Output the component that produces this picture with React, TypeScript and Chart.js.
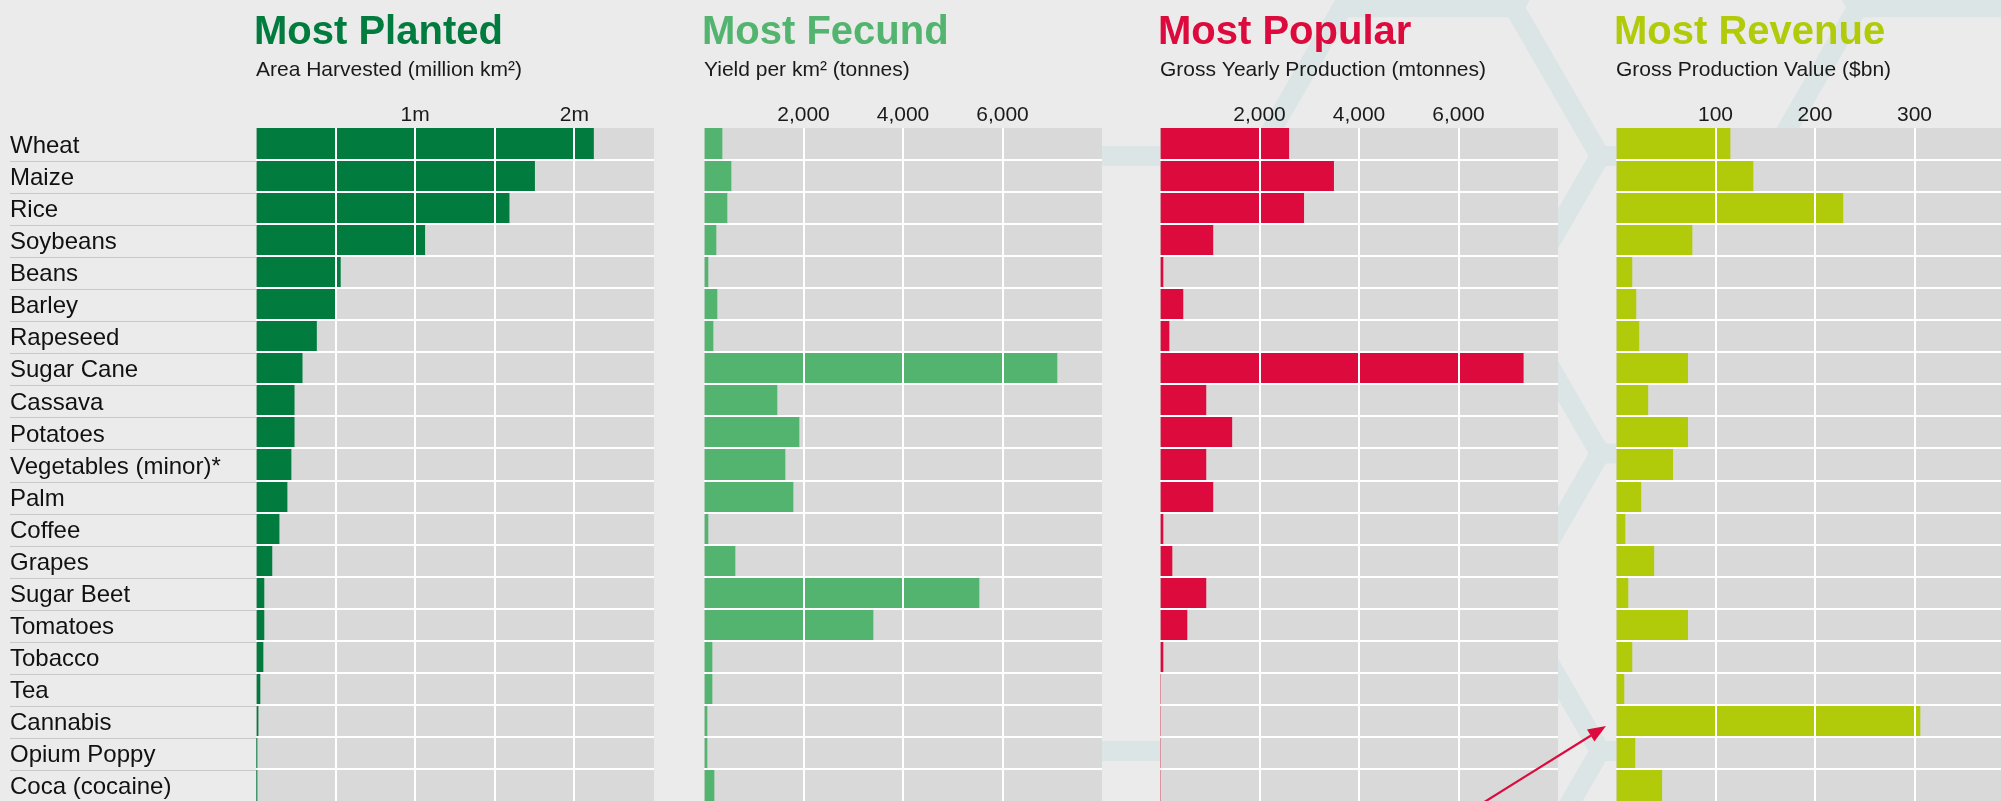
import React, { useEffect, useRef } from 'react';
import { Chart, registerables } from 'chart.js';

Chart.register(...registerables);

const FONT = '"Liberation Sans", Arial, Helvetica, sans-serif';

const categories = [
  'Wheat', 'Maize', 'Rice', 'Soybeans', 'Beans', 'Barley', 'Rapeseed', 'Sugar Cane',
  'Cassava', 'Potatoes', 'Vegetables (minor)*', 'Palm', 'Coffee', 'Grapes', 'Sugar Beet',
  'Tomatoes', 'Tobacco', 'Tea', 'Cannabis', 'Opium Poppy', 'Coca (cocaine)',
];

// Area Harvested (million km²)
const areaHarvested = [2.12, 1.75, 1.59, 1.06, 0.53, 0.5, 0.38, 0.29, 0.24, 0.24, 0.22, 0.195, 0.145, 0.1, 0.05, 0.05, 0.044, 0.025, 0.013, 0.004, 0.004];
// Yield per km² (tonnes)
const yieldPerKm2 = [362, 543, 462, 241, 80, 261, 181, 7095, 1467, 1910, 1628, 1789, 80, 623, 5528, 3397, 161, 161, 60, 60, 201];
// Gross Yearly Production (mtonnes)
const grossProduction = [2588, 3490, 2889, 1063, 60, 461, 181, 7302, 923, 1444, 923, 1063, 60, 241, 923, 542, 60, 0, 0, 0, 0];
// Gross Production Value ($bn)
const productionValue = [114.6, 137.7, 228, 76.4, 16, 20, 23, 72, 32, 72, 57, 25, 9, 38, 12, 72, 16, 8, 305.5, 19, 46];

const plantedTicks = ['', '', '1m', '', '2m', ''];
const fecundTicks = ['', '2,000', '4,000', '6,000', ''];
const popularTicks = ['', '2,000', '4,000', '6,000', ''];
const revenueTicks = ['', '100', '200', '300', ''];

const panels = [
  { title: 'Most Planted', subtitle: 'Area Harvested (million km²)', color: '#027b3e', values: areaHarvested, max: 2.5, step: 0.5, tickLabels: plantedTicks, left: 0, width: 654, labels: true },
  { title: 'Most Fecund', subtitle: 'Yield per km² (tonnes)', color: '#53b46f', values: yieldPerKm2, max: 8000, step: 2000, tickLabels: fecundTicks, left: 704, width: 398, labels: false },
  { title: 'Most Popular', subtitle: 'Gross Yearly Production (mtonnes)', color: '#dc0a3d', values: grossProduction, max: 8000, step: 2000, tickLabels: popularTicks, left: 1160, width: 398, labels: false },
  { title: 'Most Revenue', subtitle: 'Gross Production Value ($bn)', color: '#b1cb0b', values: productionValue, max: 400, step: 100, tickLabels: revenueTicks, left: 1616, width: 398, labels: false },
];

const panelDecor = {
  id: 'panelDecor',
  beforeDraw(chart: any) {
    const { ctx, chartArea: a } = chart;
    ctx.save();
    ctx.fillStyle = '#d9d9d9';
    ctx.fillRect(a.left, a.top, a.right - a.left, a.bottom - a.top);
    ctx.restore();
  },
  afterDraw(chart: any, _args: any, opts: any) {
    const { ctx, chartArea: a } = chart;
    ctx.save();
    ctx.textAlign = 'left';
    ctx.textBaseline = 'alphabetic';
    ctx.fillStyle = opts.color;
    ctx.font = `bold 40px ${FONT}`;
    ctx.fillText(opts.title, a.left - 2, 43.5);
    ctx.fillStyle = '#1a1a1a';
    ctx.font = `21px ${FONT}`;
    ctx.fillText(opts.subtitle, a.left, 76);
    if (opts.rules) {
      const n = chart.data.labels.length;
      const step = (a.bottom - a.top) / n;
      ctx.strokeStyle = '#c9c9c9';
      ctx.lineWidth = 1;
      for (let i = 1; i <= n; i++) {
        const yy = Math.round(a.top + step * i) + 1.5;
        ctx.beginPath();
        ctx.moveTo(10, yy);
        ctx.lineTo(a.left, yy);
        ctx.stroke();
      }
    }
    ctx.restore();
  },
};

function Panel({ cfg }: { cfg: any }) {
  const ref = useRef<HTMLCanvasElement>(null);
  useEffect(() => {
    const canvas = ref.current;
    if (!canvas) return;
    const nTicks = cfg.tickLabels.length;
    const chart = new Chart(canvas, {
      type: 'bar',
      data: {
        labels: categories,
        datasets: [{
          data: cfg.values,
          backgroundColor: cfg.color,
          borderWidth: 0,
          barPercentage: 1,
          categoryPercentage: 1,
        }],
      },
      options: {
        indexAxis: 'y',
        responsive: false,
        maintainAspectRatio: false,
        animation: false,
        events: [],
        devicePixelRatio: 1,
        layout: { autoPadding: false, padding: { left: cfg.labels ? 10 : 0, right: 0, top: 0, bottom: 0 } },
        plugins: {
          legend: { display: false },
          tooltip: { enabled: false },
          title: { display: false },
          panelDecor: { title: cfg.title, subtitle: cfg.subtitle, color: cfg.color, rules: cfg.labels },
        } as any,
        scales: {
          x: {
            type: 'linear',
            position: 'top',
            min: 0,
            max: cfg.max,
            ticks: {
              stepSize: cfg.step,
              autoSkip: false,
              maxRotation: 0,
              padding: 0,
              color: '#1a1a1a',
              font: { family: FONT, size: 21 },
              callback: (_v: any, i: number) => cfg.tickLabels[i] ?? '',
            },
            grid: {
              color: (c: any) => (c.type === 'tick' && c.index > 0 && c.index < nTicks - 1 ? '#ffffff' : 'rgba(0,0,0,0)'),
              lineWidth: 2,
              drawTicks: false,
              z: 1,
            },
            border: { display: false },
            afterFit: (s: any) => { s.height = 128; s.paddingLeft = 0; s.paddingRight = 0; },
          },
          y: {
            type: 'category',
            ticks: {
              display: cfg.labels,
              crossAlign: 'far',
              padding: 0,
              autoSkip: false,
              labelOffset: 2.5,
              color: '#111111',
              font: { family: FONT, size: 24 },
            },
            grid: {
              offset: true,
              color: (c: any) => (c.type === 'tick' && c.index > 0 ? '#ffffff' : 'rgba(0,0,0,0)'),
              lineWidth: 2,
              drawTicks: false,
              z: 1,
            },
            border: { display: false },
            afterFit: (s: any) => { s.width = cfg.labels ? 246 : 0; s.paddingTop = 0; s.paddingBottom = 0; },
          },
        } as any,
      } as any,
      plugins: [panelDecor as any],
    });
    return () => chart.destroy();
  }, [cfg]);
  return (
    <canvas
      ref={ref}
      width={cfg.width}
      height={801}
      style={{ position: 'absolute', left: cfg.left, top: 0, width: cfg.width, height: 801 }}
    />
  );
}

function Honeycomb() {
  const band = { stroke: '#dce5e5', strokeWidth: 20, fill: 'none', strokeLinejoin: 'miter' as const };
  return (
    <svg width={2001} height={801} style={{ position: 'absolute', left: 0, top: 0 }}>
      <polyline {...band} points="1600,-141.5 1514.1,7.25 1600,156 1514.1,304.75 1600,453.5 1514.1,602.25 1600,751 1514.1,899.75" />
      <polyline {...band} points="1771.8,-141.5 1857.6,7.25 1771.8,156 1857.6,304.75 1771.8,453.5 1857.6,602.25 1771.8,751 1857.6,899.75" />
      <line {...band} x1={1600} y1={156} x2={1771.8} y2={156} />
      <line {...band} x1={1600} y1={453.5} x2={1771.8} y2={453.5} />
      <line {...band} x1={1600} y1={751} x2={1771.8} y2={751} />
      <line {...band} x1={1857.6} y1={7.25} x2={2030} y2={7.25} />
      <polyline {...band} points="1084.7,156 1256.5,156 1342.4,7.25 1514.1,7.25" />
      <line {...band} x1={1084.7} y1={751} x2={1256.5} y2={751} />
    </svg>
  );
}

function Arrow() {
  return (
    <svg width={2001} height={801} style={{ position: 'absolute', left: 0, top: 0, pointerEvents: 'none' }}>
      <line x1={1469} y1={811.6} x2={1591} y2={735.5} stroke="#dc0a3d" strokeWidth={2.2} />
      <polygon points="1606,726 1587,729.6 1594.4,741.4" fill="#dc0a3d" />
    </svg>
  );
}

export default function App() {
  return (
    <div
      style={{
        position: 'absolute',
        left: 0,
        top: 0,
        width: 2001,
        height: 801,
        overflow: 'hidden',
        background: '#ebebeb',
      }}
    >
      <Honeycomb />
      {panels.map((p) => (
        <Panel key={p.title} cfg={p} />
      ))}
      <Arrow />
    </div>
  );
}
